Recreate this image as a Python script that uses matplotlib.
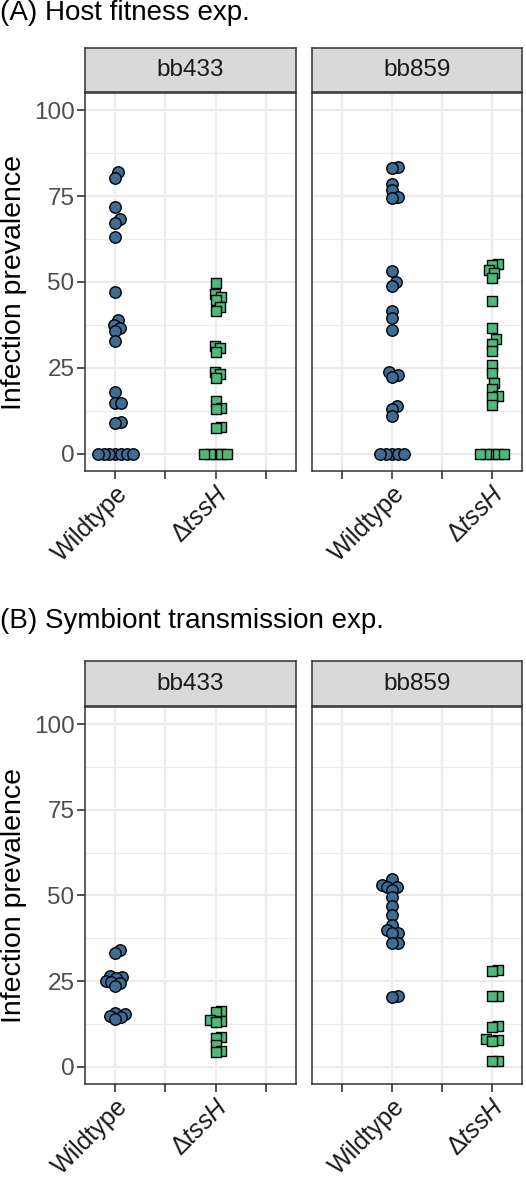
import numpy as np
import matplotlib
matplotlib.use("Agg")
import matplotlib.pyplot as plt

plt.rcParams['font.family'] = ['Liberation Sans', 'DejaVu Sans']
plt.rcParams['mathtext.fontset'] = 'custom'
plt.rcParams['mathtext.rm'] = 'Liberation Sans'
plt.rcParams['mathtext.it'] = 'Liberation Sans:italic'

# infection prevalence (%)
host_bb433_wt = [81.9, 80.4, 71.7, 68.2, 67.2, 63.0, 47.1, 38.8, 37.5, 36.7, 35.6, 32.9,
                 18.1, 14.7, 14.7, 9.4, 9.1, 0, 0, 0, 0, 0, 0, 0]
host_bb433_ts = [49.6, 46.5, 45.7, 44.8, 42.8, 41.7, 31.4, 30.7, 29.6, 23.9, 23.2, 22.2,
                 15.5, 13.3, 13.1, 7.8, 7.5, 0, 0, 0, 0, 0]
host_bb859_wt = [83.4, 83.1, 78.4, 76.7, 74.8, 74.3, 53.2, 49.9, 48.8, 41.6, 39.4, 36.0,
                 23.9, 23.0, 22.5, 13.8, 13.0, 11.0, 0, 0, 0, 0, 0]
host_bb859_ts = [55.2, 54.9, 53.5, 52.7, 51.1, 44.6, 36.7, 33.3, 32.0, 29.9, 25.8, 23.4,
                 20.5, 18.9, 16.7, 16.5, 14.2, 0, 0, 0, 0, 0]

trans_bb433_wt = [34.1, 33.3, 26.4, 26.2, 25.8, 25.0, 24.8, 24.5, 23.5,
                  15.8, 15.5, 14.7, 14.5, 14.1]
trans_bb433_ts = [16.3, 16.1, 13.6, 13.3, 13.0, 8.8, 8.4, 6.5, 4.6, 4.3]
trans_bb859_wt = [54.8, 53.2, 52.6, 52.4, 51.6, 49.5, 46.8, 44.2, 41.3, 39.9, 39.1, 39.0,
                  36.2, 36.0, 20.8, 20.5]
trans_bb859_ts = [28.3, 27.9, 20.8, 20.6, 11.9, 11.7, 8.1, 7.9, 7.6, 1.8, 1.6]

strains = ["bb433", "bb859"]
titles = ["(A) Host fitness exp.", "(B) Symbiont transmission exp."]
tick_labels = [["Wildtype", "", r"$\Delta\mathit{tssH}$", ""],
               ["", "Wildtype", "", r"$\Delta\mathit{tssH}$"]]
wt_pos = [1, 2]
ts_pos = [3, 4]

blue = "#3D6C94"
green = "#4DBA7B"

W, H = 526, 1177
fig = plt.figure(figsize=(W / 100, H / 100), dpi=100)


def box(x0, y0, x1, y1):
    return [x0 / W, 1 - y1 / H, (x1 - x0) / W, (y1 - y0) / H]


def swarm(vals, xpx, ypx, d=5.8):
    # simple beeswarm: place each point closest to the centre line without overlap
    vals = np.asarray(vals, float)
    order = np.argsort(vals, kind="stable")
    placed = []
    off = np.zeros(len(vals))
    for i in order:
        y = vals[i] * ypx
        cands = [0.0]
        for px, py in placed:
            dy = y - py
            if abs(dy) < d:
                dx = np.sqrt(d * d - dy * dy)
                cands += [px + dx, px - dx]
        for c in sorted(cands, key=abs):
            if all((c - px) ** 2 + (y - py) ** 2 >= d * d - 1e-6 for px, py in placed):
                break
        off[i] = c / xpx
        placed.append((c, y))
    return off


rows = [
    dict(y=(93, 471), strip=(48, 92), title_y=13,
         data=[(host_bb433_wt, host_bb433_ts), (host_bb859_wt, host_bb859_ts)]),
    dict(y=(707, 1084), strip=(661, 706), title_y=621,
         data=[(trans_bb433_wt, trans_bb433_ts), (trans_bb859_wt, trans_bb859_ts)]),
]
cols = [(85, 296), (312, 522)]

for r, row in enumerate(rows):
    fig.text(0 / W, 1 - row["title_y"] / H, titles[r], fontsize=20,
             ha="left", va="center")
    y0, y1 = row["y"]
    for c, (x0, x1) in enumerate(cols):
        ax = fig.add_axes(box(x0, y0, x1, y1))
        ax.set_xlim(0.4, 4.6)
        ax.set_ylim(-5, 105)
        xpx = (x1 - x0) / 4.2
        ypx = (y1 - y0) / 110
        ax.set_yticks([0, 25, 50, 75, 100])
        ax.set_yticks([12.5, 37.5, 62.5, 87.5], minor=True)
        ax.set_xticks([1, 2, 3, 4])
        ax.set_xticklabels(tick_labels[c], rotation=45, ha="right", va="top",
                           rotation_mode="anchor", fontsize=18, color="#1A1A1A")
        ax.grid(True, which="major", color="#EBEBEB", lw=1.6, zorder=0)
        ax.grid(True, which="minor", axis="y", color="#EBEBEB", lw=0.9, zorder=0)
        ax.set_axisbelow(True)
        ax.tick_params(which="major", length=5.5, width=1.2, color="#333333", pad=2)
        ax.tick_params(axis="y", labelcolor="#4D4D4D", labelsize=17.5)
        ax.tick_params(which="minor", length=0)
        for s in ax.spines.values():
            s.set_color("#333333")
            s.set_linewidth(1.1)
        if c == 0:
            ax.set_ylabel("Infection prevalence", fontsize=20.5, labelpad=5)
        else:
            ax.set_yticklabels([])
            ax.tick_params(axis="y", length=0)

        wt, ts = row["data"][c]
        ax.scatter(wt_pos[c] + swarm(wt, xpx, ypx), wt, s=68, marker="o",
                   facecolor=blue, edgecolor="black", linewidth=1.0, zorder=3)
        ax.scatter(ts_pos[c] + swarm(ts, xpx, ypx), ts, s=52, marker="s",
                   facecolor=green, edgecolor="black", linewidth=1.0, zorder=3)

        sa = fig.add_axes(box(x0, row["strip"][0], x1, row["strip"][1]))
        sa.set_facecolor("#D9D9D9")
        sa.set_xticks([])
        sa.set_yticks([])
        for s in sa.spines.values():
            s.set_color("#333333")
            s.set_linewidth(1.1)
        sa.text(0.5, 0.5, strains[c], transform=sa.transAxes, ha="center",
                va="center", fontsize=17.5, color="#1A1A1A")

fig.savefig("out.png", dpi=100)
